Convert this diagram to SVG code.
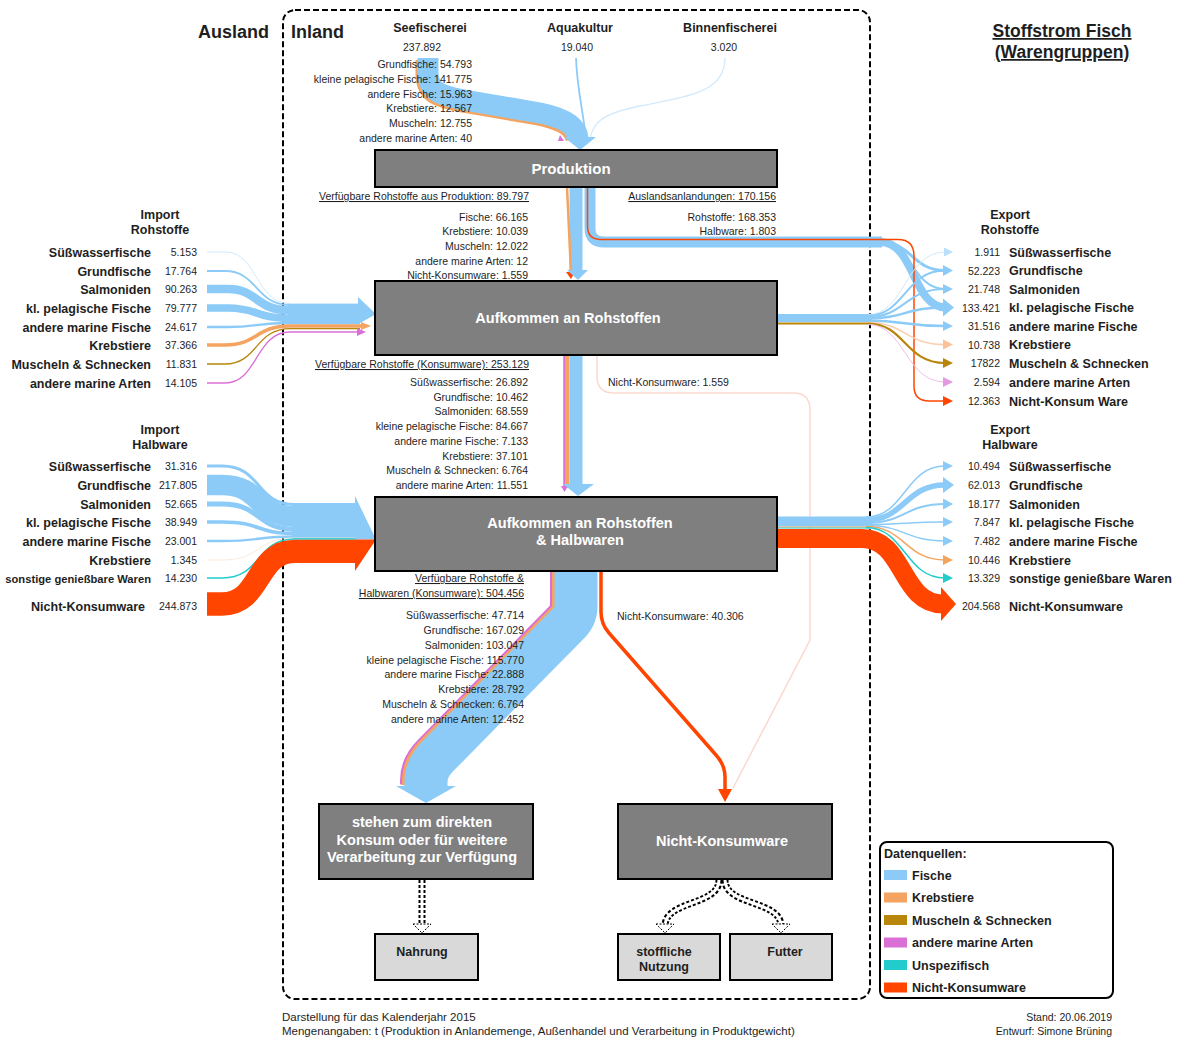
<svg xmlns="http://www.w3.org/2000/svg" xmlns:xlink="http://www.w3.org/1999/xlink" width="1179" height="1038" viewBox="0 0 1179 1038">
<defs>
<style>
text{font-family:"Liberation Sans",Arial,sans-serif;fill:#1e1e1e}
.t{font-size:10.5px}
.r{text-anchor:end}
.m{text-anchor:middle}
.b{font-weight:bold}
.row{font-size:12.5px;font-weight:bold}
.hd{font-size:12.5px;font-weight:bold;text-anchor:middle}
.u{text-decoration:underline}
.node rect{fill:#7f7f7f;stroke:#000;stroke-width:2}
.node text{fill:#fff;font-weight:bold;font-size:14.5px;text-anchor:middle}
.sub rect{fill:#d9d9d9;stroke:#000;stroke-width:2}
.sub text{font-weight:bold;font-size:12.5px;text-anchor:middle}
.f{fill:none}
.bl{stroke:#8ccbf7}
.pb{stroke:#d3eafc}
.or{stroke:#f4a460}
.po{stroke:#f9cfae}
.br{stroke:#b8860b}
.pk{stroke:#da70d6}
.pp{stroke:#efbdec}
.cy{stroke:#22cccc}
.rd{stroke:#ff4500}
.dash2{fill:none;stroke:#000;stroke-width:7;stroke-dasharray:3 2}
.gap{fill:none;stroke:#fff;stroke-width:3}
</style>
<path id="ah" d="M-10,-5 L0,0 L-10,5 Z"/>
</defs>

<rect width="1179" height="1038" fill="#fff"/>

<!-- domestic area frame -->
<rect x="283" y="10" width="587" height="989" rx="12" fill="none" stroke="#000" stroke-width="2" stroke-dasharray="6 3"/>

<!-- titles -->
<text x="198" y="38" style="font-size:18px;font-weight:bold">Ausland</text>
<text x="291" y="38" style="font-size:18px;font-weight:bold">Inland</text>
<text x="1062" y="37" class="m u" style="font-size:17.5px;font-weight:bold">Stoffstrom Fisch</text>
<text x="1062" y="58" class="m u" style="font-size:17.5px;font-weight:bold">(Warengruppen)</text>

<g id="connectors">
  <!-- sea fishery into production -->
  <path class="f or" stroke-width="21" transform="translate(-2,2)" d="M428,58 V72 C428,92 440,96 470,101 L540,113 C565,118 577,126 578,138"/>
  <path class="f bl" stroke-width="21" d="M428,58 V72 C428,92 440,96 470,101 L540,113 C565,118 577,126 578,138"/>
  <path d="M560,135 L564,141 L558,141 Z" fill="#da70d6"/>
  <path class="f bl" stroke-width="1.8" d="M576,58 C577,90 584,115 586,140"/>
  <path class="f pb" stroke-width="1.3" d="M725,58 C725,92 690,96 640,106 C600,114 592,124 590,140"/>
  <polygon points="564,137 596,137 580,150" fill="#8ccbf7"/>

  <!-- production to raw material supply -->
  <path class="f bl" stroke-width="13" d="M576,187 V271"/>
  <path class="f or" stroke-width="2.5" d="M567,187 L571,273"/>
  <polygon points="566,272 575,272 571,279" fill="#ff4500"/>
  <polygon points="567,270 588,270 578,280" fill="#8ccbf7"/>

  <!-- foreign landings to export -->
  <path class="f bl" stroke-width="11" d="M590,187 V228 Q590,242 604,242 H882"/>
  <path class="f bl" stroke-width="8" d="M880,242 C915,242 912,306 945,307.5"/>
  <path class="f bl" stroke-width="3" d="M880,242 C912,242 912,270.5 945,270.5"/>
  <path class="f bl" stroke-width="2" d="M880,242 C912,242 912,289 945,289"/>
  <path class="f rd" stroke-width="1.5" d="M587.5,187 V226 Q587.5,239.5 601,239.5 H898 Q914,239.5 914,256 V386 Q914,401 929,401 H945"/>

  <!-- import raw materials -->
  <rect x="288" y="303" width="72" height="21" fill="#8ccbf7"/>
  <path class="f pb" stroke-width="1" d="M207,252 H225 C258,252 255,303.5 290,303.5 H358"/>
  <path class="f bl" stroke-width="1.8" d="M207,271 H225 C258,271 255,305 290,305 H358"/>
  <path class="f bl" stroke-width="8.6" d="M207,289 H228 C258,289 255,310.2 290,310.2 H358"/>
  <path class="f bl" stroke-width="7.6" d="M207,308 H228 C258,308 255,318.3 290,318.3 H358"/>
  <path class="f bl" stroke-width="2.3" d="M207,327 H228 C258,327 255,323 290,323 H358"/>
  <path class="f or" stroke-width="3.6" d="M207,345 H225 C258,345 255,326 290,326 H362"/>
  <path class="f br" stroke-width="1.3" d="M207,364 H225 C258,364 255,328.6 290,328.6 H360"/>
  <path class="f pk" stroke-width="1.3" d="M207,383 H225 C258,383 255,332 290,332 H358"/>
  <polygon points="358,297 376,314 358,324.3" fill="#8ccbf7"/>
  <polygon points="361,322 371,326 361,330" fill="#f4a460"/>
  <polygon points="357,328 366,332 357,336" fill="#da70d6"/>

  <!-- raw material supply to export -->
  <path class="f bl" stroke-width="8" d="M777,318 H872"/>
  <path class="f br" stroke-width="2" d="M777,323.5 H870"/>
  <path class="f pb" stroke-width="1" d="M868,314.5 C905,314.5 905,252 945,252"/>
  <path class="f bl" stroke-width="2" d="M868,315.5 C905,315.5 905,270.5 945,270.5"/>
  <path class="f bl" stroke-width="2" d="M868,317 C905,317 905,289 945,289"/>
  <path class="f bl" stroke-width="2.5" d="M868,318.5 C905,318.5 905,307.5 945,307.5"/>
  <path class="f bl" stroke-width="2.5" d="M868,320.5 C905,320.5 905,326 945,326"/>
  <path class="f po" stroke-width="1.5" d="M868,322.5 C905,322.5 905,344.5 945,344.5"/>
  <path class="f br" stroke-width="2.2" d="M868,323.5 C905,323.5 905,363 945,363"/>
  <path class="f pp" stroke-width="1" d="M868,324.5 C905,324.5 905,382 945,382"/>
  <use href="#ah" transform="translate(953,252) scale(0.9,0.9)" fill="#b9dffa"/>
  <use href="#ah" transform="translate(953,270.5) scale(1,1.1)" fill="#8ccbf7"/>
  <use href="#ah" transform="translate(953,289) scale(1,1)" fill="#8ccbf7"/>
  <use href="#ah" transform="translate(954,307.5) scale(1.1,1.8)" fill="#8ccbf7"/>
  <use href="#ah" transform="translate(953,326) scale(1,1)" fill="#8ccbf7"/>
  <use href="#ah" transform="translate(953,344.5) scale(1,1)" fill="#f9c299"/>
  <use href="#ah" transform="translate(953,363) scale(1,1)" fill="#b8860b"/>
  <use href="#ah" transform="translate(953,382) scale(1,1)" fill="#e39ae0"/>
  <use href="#ah" transform="translate(953,401) scale(1,1)" fill="#ff4500"/>

  <!-- raw material supply to raw + semi-finished supply -->
  <path class="f pk" stroke-width="2.5" d="M564.5,355 V488"/>
  <path class="f or" stroke-width="3.5" d="M567.7,355 V488"/>
  <path class="f bl" stroke-width="13" d="M576,355 V485"/>
  <polygon points="561,486 568,486 564.5,492" fill="#da70d6"/>
  <polygon points="563,484 594,484 578,496" fill="#8ccbf7"/>

  <!-- non-consumables from raw material supply -->
  <path class="f" stroke="#fcd9cf" stroke-width="1.5" d="M597,355 V376 Q597,393 614,393 H793 Q810,393 810,410 V640 L733,788"/>

  <!-- import semi-finished goods -->
  <rect x="292" y="503" width="64" height="36" fill="#8ccbf7"/>
  <path class="f bl" stroke-width="3" d="M207,466 H222 C262,466 255,504.5 295,504.5 H356"/>
  <path class="f bl" stroke-width="20.7" d="M207,485 H222 C262,485 255,516.4 295,516.4 H356"/>
  <path class="f bl" stroke-width="5" d="M207,504 H222 C262,504 255,529.2 295,529.2 H356"/>
  <path class="f bl" stroke-width="3.7" d="M207,522 H222 C262,522 255,533.5 295,533.5 H356"/>
  <path class="f bl" stroke-width="2.3" d="M207,541 H222 C262,541 255,536.5 295,536.5 H356"/>
  <path class="f" stroke="#fbe3d0" stroke-width="0.8" d="M207,560 H222 C262,560 255,538 295,538 H356"/>
  <path class="f cy" stroke-width="1.4" d="M207,578 H222 C262,578 255,539 295,539 H356"/>
  <path class="f rd" stroke-width="23.3" d="M207,604 H222 C262,604 255,551.3 295,551.3 H356"/>
  <polygon points="355,496 376,539.6 355,539.6" fill="#8ccbf7"/>
  <polygon points="355,539.6 376,539.6 355,571" fill="#ff4500"/>

  <!-- raw + semi-finished supply to export -->
  <path class="f bl" stroke-width="10" d="M777,521.5 H872"/>
  <path class="f or" stroke-width="1" d="M777,527 H870"/>
  <path class="f cy" stroke-width="1" d="M777,528 H870"/>
  <path class="f bl" stroke-width="1.5" d="M866,517 C905,517 905,466 945,466"/>
  <path class="f bl" stroke-width="5.5" d="M866,520 C905,520 905,485 945,485"/>
  <path class="f bl" stroke-width="2" d="M866,523 C905,523 905,504 945,504"/>
  <path class="f bl" stroke-width="1.5" d="M866,524.5 C905,524.5 905,522 945,522"/>
  <path class="f bl" stroke-width="1.5" d="M866,525.5 C905,525.5 905,541 945,541"/>
  <path class="f or" stroke-width="1.5" d="M866,526.5 C905,526.5 905,560 945,560"/>
  <path class="f cy" stroke-width="1.5" d="M866,527.5 C905,527.5 905,578 945,578"/>
  <path class="f rd" stroke-width="19" d="M777,538.5 H862 C905,538.5 900,604 943,604"/>
  <use href="#ah" transform="translate(953,466)" fill="#8ccbf7"/>
  <use href="#ah" transform="translate(954,485) scale(1.1,1.6)" fill="#8ccbf7"/>
  <use href="#ah" transform="translate(953,504) scale(1,1.1)" fill="#8ccbf7"/>
  <use href="#ah" transform="translate(953,522)" fill="#8ccbf7"/>
  <use href="#ah" transform="translate(953,541)" fill="#8ccbf7"/>
  <use href="#ah" transform="translate(953,560)" fill="#f4a460"/>
  <use href="#ah" transform="translate(953,578)" fill="#22cccc"/>
  <polygon points="941,587 956,604 941,621" fill="#ff4500"/>

  <!-- available for consumption -->
  <path class="f pk" stroke-width="43" transform="translate(-4.5,-1.5)" d="M576,571 V606 Q576,616 569,623 L438,756 Q426,768 426,782 V786"/>
  <path class="f or" stroke-width="43" transform="translate(-2.5,-0.8)" d="M576,571 V606 Q576,616 569,623 L438,756 Q426,768 426,782 V786"/>
  <path class="f bl" stroke-width="43" d="M576,571 V606 Q576,616 569,623 L438,756 Q426,768 426,782 V787"/>
  <polygon points="396,786 456,786 426,803" fill="#8ccbf7"/>

  <!-- non-consumables -->
  <path class="f rd" stroke-width="3.5" d="M601,571 V612 Q601,624 609,633 L716,755 Q725,765 725,777 V791"/>
  <polygon points="718,789 732,789 725,802" fill="#ff4500"/>

  <!-- use of goods -->
  <path class="dash2" d="M422,880 V926"/>
  <path class="gap" d="M422,880 V926"/>
  <polygon points="413,924 431,924 422,933" fill="#fff" stroke="#000" stroke-width="1" stroke-dasharray="2 1.5"/>
  <path class="dash2" d="M719,880 C719,906 665,900 665,926"/>
  <path class="gap" d="M719,880 C719,906 665,900 665,926"/>
  <polygon points="656,924 674,924 665,933" fill="#fff" stroke="#000" stroke-width="1" stroke-dasharray="2 1.5"/>
  <path class="dash2" d="M725,880 C725,906 781,900 781,926"/>
  <path class="gap" d="M725,880 C725,906 781,900 781,926"/>
  <polygon points="772,924 790,924 781,933" fill="#fff" stroke="#000" stroke-width="1" stroke-dasharray="2 1.5"/>
</g>

<!-- sources -->
<g id="seefischerei">
  <text x="430" y="32" class="hd">Seefischerei</text>
  <text x="422" y="51" class="t m">237.892</text>
  <text x="472" y="68" class="t r">Grundfische: 54.793</text>
  <text x="472" y="83" class="t r">kleine pelagische Fische: 141.775</text>
  <text x="472" y="98" class="t r">andere Fische: 15.963</text>
  <text x="472" y="112" class="t r">Krebstiere: 12.567</text>
  <text x="472" y="127" class="t r">Muscheln: 12.755</text>
  <text x="472" y="142" class="t r">andere marine Arten: 40</text>
</g>
<g id="aquakultur">
  <text x="580" y="32" class="hd">Aquakultur</text>
  <text x="577" y="51" class="t m">19.040</text>
</g>
<g id="binnenfischerei">
  <text x="730" y="32" class="hd">Binnenfischerei</text>
  <text x="724" y="51" class="t m">3.020</text>
</g>

<g id="produktion" class="node">
  <rect x="375" y="150" width="402" height="37"/>
  <text x="571" y="174" style="font-size:15px">Produktion</text>
</g>
<g id="produktion-labels">
  <text x="529" y="200" class="t r u">Verfügbare Rohstoffe aus Produktion: 89.797</text>
  <text x="528" y="221" class="t r">Fische: 66.165</text>
  <text x="528" y="235" class="t r">Krebstiere: 10.039</text>
  <text x="528" y="250" class="t r">Muscheln: 12.022</text>
  <text x="528" y="265" class="t r">andere marine Arten: 12</text>
  <text x="528" y="279" class="t r">Nicht-Konsumware: 1.559</text>
  <text x="776" y="200" class="t r u">Auslandsanlandungen: 170.156</text>
  <text x="776" y="221" class="t r">Rohstoffe: 168.353</text>
  <text x="776" y="235" class="t r">Halbware: 1.803</text>
</g>

<g id="aufkommen-rohstoffe" class="node">
  <rect x="375" y="281" width="402" height="74"/>
  <text x="568" y="323">Aufkommen an Rohstoffen</text>
</g>
<g id="aufkommen-rohstoffe-labels">
  <text x="529" y="368" class="t r u">Verfügbare Rohstoffe (Konsumware): 253.129</text>
  <text x="528" y="386" class="t r">Süßwasserfische: 26.892</text>
  <text x="528" y="401" class="t r">Grundfische: 10.462</text>
  <text x="528" y="415" class="t r">Salmoniden: 68.559</text>
  <text x="528" y="430" class="t r">kleine pelagische Fische: 84.667</text>
  <text x="528" y="445" class="t r">andere marine Fische: 7.133</text>
  <text x="528" y="460" class="t r">Krebstiere: 37.101</text>
  <text x="528" y="474" class="t r">Muscheln &amp; Schnecken: 6.764</text>
  <text x="528" y="489" class="t r">andere marine Arten: 11.551</text>
  <text x="608" y="386" class="t">Nicht-Konsumware: 1.559</text>
</g>

<g id="aufkommen-halbwaren" class="node">
  <rect x="375" y="497" width="402" height="74"/>
  <text x="580" y="528">Aufkommen an Rohstoffen</text>
  <text x="580" y="545">&amp; Halbwaren</text>
</g>
<g id="aufkommen-halbwaren-labels">
  <text x="524" y="582" class="t r u">Verfügbare Rohstoffe &amp;</text>
  <text x="524" y="597" class="t r u">Halbwaren (Konsumware): 504.456</text>
  <text x="524" y="619" class="t r">Süßwasserfische: 47.714</text>
  <text x="524" y="634" class="t r">Grundfische: 167.029</text>
  <text x="524" y="649" class="t r">Salmoniden: 103.047</text>
  <text x="524" y="664" class="t r">kleine pelagische Fische: 115.770</text>
  <text x="524" y="678" class="t r">andere marine Fische: 22.888</text>
  <text x="524" y="693" class="t r">Krebstiere: 28.792</text>
  <text x="524" y="708" class="t r">Muscheln &amp; Schnecken: 6.764</text>
  <text x="524" y="723" class="t r">andere marine Arten: 12.452</text>
  <text x="617" y="620" class="t">Nicht-Konsumware: 40.306</text>
</g>

<g id="konsum" class="node">
  <rect x="319" y="804" width="214" height="75"/>
  <text x="422" y="827">stehen zum direkten</text>
  <text x="422" y="845">Konsum oder für weitere</text>
  <text x="422" y="862">Verarbeitung zur Verfügung</text>
</g>
<g id="nicht-konsumware" class="node">
  <rect x="618" y="804" width="214" height="75"/>
  <text x="722" y="846">Nicht-Konsumware</text>
</g>
<g id="nahrung" class="sub">
  <rect x="375" y="934" width="103" height="46"/>
  <text x="422" y="956">Nahrung</text>
</g>
<g id="stoffliche-nutzung" class="sub">
  <rect x="618" y="934" width="102" height="46"/>
  <text x="664" y="956">stoffliche</text>
  <text x="664" y="971">Nutzung</text>
</g>
<g id="futter" class="sub">
  <rect x="730" y="934" width="102" height="46"/>
  <text x="785" y="956">Futter</text>
</g>

<g id="import-rohstoffe">
  <text x="160" y="219" class="hd">Import</text>
  <text x="160" y="234" class="hd">Rohstoffe</text>
  <text x="151" y="256.5" class="row r">Süßwasserfische</text>
  <text x="151" y="275.5" class="row r">Grundfische</text>
  <text x="151" y="293.5" class="row r">Salmoniden</text>
  <text x="151" y="312.5" class="row r">kl. pelagische Fische</text>
  <text x="151" y="331.5" class="row r">andere marine Fische</text>
  <text x="151" y="349.5" class="row r">Krebstiere</text>
  <text x="151" y="368.5" class="row r">Muscheln &amp; Schnecken</text>
  <text x="151" y="387.5" class="row r">andere marine Arten</text>
  <text x="197" y="256" class="t r">5.153</text>
  <text x="197" y="275" class="t r">17.764</text>
  <text x="197" y="293" class="t r">90.263</text>
  <text x="197" y="312" class="t r">79.777</text>
  <text x="197" y="331" class="t r">24.617</text>
  <text x="197" y="349" class="t r">37.366</text>
  <text x="197" y="368" class="t r">11.831</text>
  <text x="197" y="387" class="t r">14.105</text>
</g>

<g id="import-halbware">
  <text x="160" y="434" class="hd">Import</text>
  <text x="160" y="449" class="hd">Halbware</text>
  <text x="151" y="470.5" class="row r">Süßwasserfische</text>
  <text x="151" y="489.5" class="row r">Grundfische</text>
  <text x="151" y="508.5" class="row r">Salmoniden</text>
  <text x="151" y="526.5" class="row r">kl. pelagische Fische</text>
  <text x="151" y="545.5" class="row r">andere marine Fische</text>
  <text x="151" y="564.5" class="row r">Krebstiere</text>
  <text x="151" y="582.5" class="row r" style="font-size:11.2px">sonstige genießbare Waren</text>
  <text x="145" y="610.5" class="row r">Nicht-Konsumware</text>
  <text x="197" y="470" class="t r">31.316</text>
  <text x="197" y="489" class="t r">217.805</text>
  <text x="197" y="508" class="t r">52.665</text>
  <text x="197" y="526" class="t r">38.949</text>
  <text x="197" y="545" class="t r">23.001</text>
  <text x="197" y="564" class="t r">1.345</text>
  <text x="197" y="582" class="t r">14.230</text>
  <text x="197" y="610" class="t r">244.873</text>
</g>

<g id="export-rohstoffe">
  <text x="1010" y="219" class="hd">Export</text>
  <text x="1010" y="234" class="hd">Rohstoffe</text>
  <text x="1000" y="256" class="t r">1.911</text>
  <text x="1000" y="274.5" class="t r">52.223</text>
  <text x="1000" y="293" class="t r">21.748</text>
  <text x="1000" y="311.5" class="t r">133.421</text>
  <text x="1000" y="330" class="t r">31.516</text>
  <text x="1000" y="348.5" class="t r">10.738</text>
  <text x="1000" y="367" class="t r">17822</text>
  <text x="1000" y="386" class="t r">2.594</text>
  <text x="1000" y="405" class="t r">12.363</text>
  <text x="1009" y="256.5" class="row">Süßwasserfische</text>
  <text x="1009" y="275" class="row">Grundfische</text>
  <text x="1009" y="293.5" class="row">Salmoniden</text>
  <text x="1009" y="312" class="row">kl. pelagische Fische</text>
  <text x="1009" y="330.5" class="row">andere marine Fische</text>
  <text x="1009" y="349" class="row">Krebstiere</text>
  <text x="1009" y="367.5" class="row">Muscheln &amp; Schnecken</text>
  <text x="1009" y="386.5" class="row">andere marine Arten</text>
  <text x="1009" y="405.5" class="row">Nicht-Konsum Ware</text>
</g>

<g id="export-halbware">
  <text x="1010" y="434" class="hd">Export</text>
  <text x="1010" y="449" class="hd">Halbware</text>
  <text x="1000" y="470" class="t r">10.494</text>
  <text x="1000" y="489" class="t r">62.013</text>
  <text x="1000" y="508" class="t r">18.177</text>
  <text x="1000" y="526" class="t r">7.847</text>
  <text x="1000" y="545" class="t r">7.482</text>
  <text x="1000" y="564" class="t r">10.446</text>
  <text x="1000" y="582" class="t r">13.329</text>
  <text x="1000" y="610" class="t r">204.568</text>
  <text x="1009" y="470.5" class="row">Süßwasserfische</text>
  <text x="1009" y="489.5" class="row">Grundfische</text>
  <text x="1009" y="508.5" class="row">Salmoniden</text>
  <text x="1009" y="526.5" class="row">kl. pelagische Fische</text>
  <text x="1009" y="545.5" class="row">andere marine Fische</text>
  <text x="1009" y="564.5" class="row">Krebstiere</text>
  <text x="1009" y="582.5" class="row">sonstige genießbare Waren</text>
  <text x="1009" y="610.5" class="row">Nicht-Konsumware</text>
</g>

<g id="legende">
  <rect x="880" y="842" width="233" height="156" rx="7" fill="#fff" stroke="#000" stroke-width="2"/>
  <text x="884" y="858" class="row">Datenquellen:</text>
  <rect x="884" y="870" width="23" height="10" fill="#8ccbf7"/>
  <rect x="884" y="892.5" width="23" height="10" fill="#f4a460"/>
  <rect x="884" y="915" width="23" height="10" fill="#b8860b"/>
  <rect x="884" y="937.5" width="23" height="10" fill="#da70d6"/>
  <rect x="884" y="960" width="23" height="10" fill="#22cccc"/>
  <rect x="884" y="982.5" width="23" height="10" fill="#ff4500"/>
  <text x="912" y="879.5" class="row">Fische</text>
  <text x="912" y="902" class="row">Krebstiere</text>
  <text x="912" y="924.5" class="row">Muscheln &amp; Schnecken</text>
  <text x="912" y="947" class="row">andere marine Arten</text>
  <text x="912" y="969.5" class="row">Unspezifisch</text>
  <text x="912" y="992" class="row">Nicht-Konsumware</text>
</g>

<g id="fusszeile">
  <text x="282" y="1021" style="font-size:11.5px">Darstellung für das Kalenderjahr 2015</text>
  <text x="282" y="1035" style="font-size:11.5px">Mengenangaben: t (Produktion in Anlandemenge, Außenhandel und Verarbeitung in Produktgewicht)</text>
  <text x="1112" y="1021" class="r" style="font-size:10.5px">Stand: 20.06.2019</text>
  <text x="1112" y="1035" class="r" style="font-size:10.5px">Entwurf: Simone Brüning</text>
</g>
</svg>
